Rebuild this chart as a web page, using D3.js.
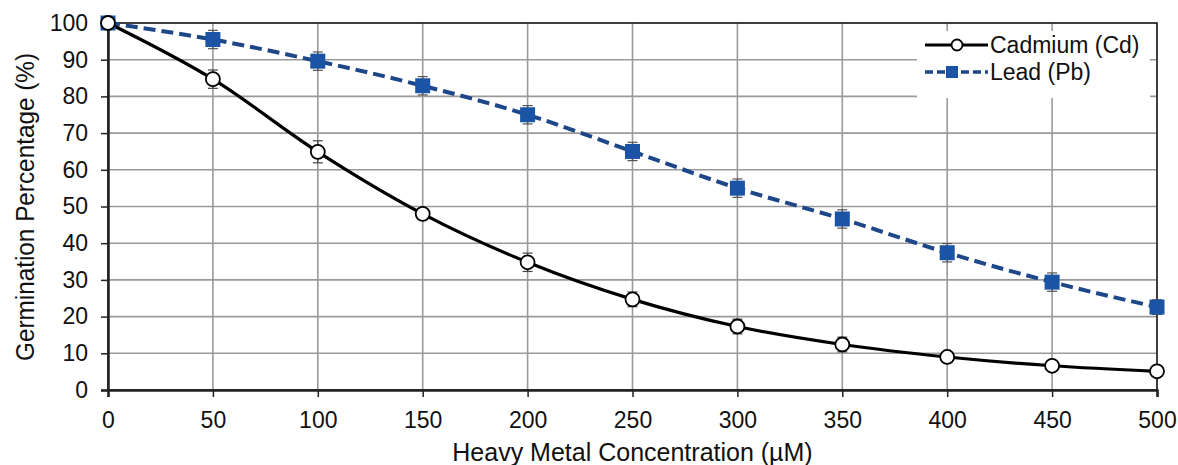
<!DOCTYPE html>
<html>
<head>
<meta charset="utf-8">
<script src="https://cdn.jsdelivr.net/npm/d3@7"></script>
<style>
  body { margin: 0; background: #fff; }
  svg { display: block; font-family: "Liberation Sans", Arial, sans-serif; }
</style>
</head>
<body>
<div id="chart"></div>
<script>
const concentrations = [0, 50, 100, 150, 200, 250, 300, 350, 400, 450, 500];
const cadmium = [100, 84.7, 64.9, 48, 34.8, 24.7, 17.3, 12.4, 9, 6.6, 5.1];
const cadmiumErr = [1, 2.5, 3, 1, 2.5, 2, 2, 2, 0.5, 0.5, 0.5];
const lead = [100, 95.5, 89.6, 82.9, 75, 65, 55, 46.6, 37.4, 29.4, 22.6];
const leadErr = [1, 2.5, 2.5, 2.5, 2.5, 2.5, 2.5, 2.5, 2.5, 2.5, 2];
const yTicks = [0, 10, 20, 30, 40, 50, 60, 70, 80, 90, 100];

const width = 1178, height = 465;
const margin = { top: 23, right: 21, bottom: 75, left: 108 };

const svg = d3.select("#chart")
  .append("svg")
  .attr("width", width)
  .attr("height", height);

const x = d3.scaleLinear().domain([0, 500]).range([margin.left, width - margin.right]);
const y = d3.scaleLinear().domain([0, 100]).range([height - margin.bottom, margin.top]);

// grid
svg.append("g")
  .selectAll("line")
  .data(yTicks)
  .join("line")
  .attr("x1", x(0)).attr("x2", x(500))
  .attr("y1", d => y(d)).attr("y2", d => y(d))
  .attr("stroke", "#9a9a9a").attr("stroke-width", 1.6);

svg.append("g")
  .selectAll("line")
  .data(concentrations)
  .join("line")
  .attr("x1", d => x(d)).attr("x2", d => x(d))
  .attr("y1", y(0)).attr("y2", y(100))
  .attr("stroke", "#9a9a9a").attr("stroke-width", 1.6);

// frame
svg.append("rect")
  .attr("x", x(0)).attr("y", y(100))
  .attr("width", x(500) - x(0)).attr("height", y(0) - y(100))
  .attr("fill", "none").attr("stroke", "#222").attr("stroke-width", 1.6);

// axes
const xAxis = svg.append("g")
  .attr("transform", `translate(0,${y(0)})`)
  .call(d3.axisBottom(x).tickValues(concentrations).tickSize(7).tickPadding(15));
const yAxis = svg.append("g")
  .attr("transform", `translate(${x(0)},0)`)
  .call(d3.axisLeft(y).tickValues(yTicks).tickSize(7).tickPadding(13));

[xAxis, yAxis].forEach(a => {
  a.select(".domain").attr("stroke", "#222").attr("stroke-width", 2.5);
  a.selectAll(".tick line").attr("stroke", "#222").attr("stroke-width", 1.5);
  a.selectAll(".tick text").attr("fill", "#111").style("font-size", "23px");
});

svg.append("text")
  .attr("x", (x(0) + x(500)) / 2)
  .attr("y", 461)
  .attr("text-anchor", "middle")
  .attr("fill", "#111")
  .style("font-size", "25px")
  .text("Heavy Metal Concentration (µM)");

svg.append("text")
  .attr("transform", "translate(34,207) rotate(-90)")
  .attr("text-anchor", "middle")
  .attr("fill", "#111")
  .style("font-size", "25px")
  .attr("textLength", 308)
  .attr("lengthAdjust", "spacingAndGlyphs")
  .text("Germination Percentage (%)");

const lineBlue = "#1d4788";
const markBlue = "#1b54a4";

const cdData = concentrations.map((c, i) => ({ x: c, y: cadmium[i], e: cadmiumErr[i] }));
const pbData = concentrations.map((c, i) => ({ x: c, y: lead[i], e: leadErr[i] }));

const errorBars = (data, color) => {
  const g = svg.append("g").attr("stroke", color).attr("stroke-width", 1.2);
  g.append("g").selectAll("line").data(data).join("line")
    .attr("x1", d => x(d.x)).attr("x2", d => x(d.x))
    .attr("y1", d => y(d.y - d.e)).attr("y2", d => y(d.y + d.e));
  [-1, 1].forEach(s => {
    g.append("g").selectAll("line").data(data).join("line")
      .attr("x1", d => x(d.x) - 5).attr("x2", d => x(d.x) + 5)
      .attr("y1", d => y(d.y + s * d.e))
      .attr("y2", d => y(d.y + s * d.e));
  });
};
errorBars(pbData, "#555");
errorBars(cdData, "#444");

const line = d3.line().x(d => x(d.x)).y(d => y(d.y)).curve(d3.curveMonotoneX);

svg.append("path")
  .datum(pbData)
  .attr("d", line)
  .attr("fill", "none")
  .attr("stroke", lineBlue)
  .attr("stroke-width", 4)
  .attr("stroke-dasharray", "12,6");

svg.append("path")
  .datum(cdData)
  .attr("d", line)
  .attr("fill", "none")
  .attr("stroke", "#000")
  .attr("stroke-width", 3.2);

svg.append("g")
  .selectAll("rect")
  .data(pbData)
  .join("rect")
  .attr("x", d => x(d.x) - 7.5).attr("y", d => y(d.y) - 7.5)
  .attr("width", 15).attr("height", 15)
  .attr("fill", markBlue);

svg.append("g")
  .selectAll("circle")
  .data(cdData)
  .join("circle")
  .attr("cx", d => x(d.x)).attr("cy", d => y(d.y))
  .attr("r", 7)
  .attr("fill", "#fff")
  .attr("stroke", "#000")
  .attr("stroke-width", 1.8);

// legend
const legend = svg.append("g").attr("transform", "translate(917,31)");
legend.append("rect")
  .attr("width", 233).attr("height", 67)
  .attr("fill", "#fff");

const cdRow = legend.append("g").attr("transform", "translate(0,14)");
cdRow.append("line").attr("x1", 8).attr("x2", 71).attr("stroke", "#000").attr("stroke-width", 3);
cdRow.append("circle").attr("cx", 40).attr("r", 5.5).attr("fill", "#fff").attr("stroke", "#000").attr("stroke-width", 1.8);
cdRow.append("text").attr("x", 73).attr("dy", "0.35em").attr("fill", "#111").style("font-size", "23px").text("Cadmium (Cd)");

const pbRow = legend.append("g").attr("transform", "translate(0,41)");
pbRow.append("line").attr("x1", 8).attr("x2", 71).attr("stroke", lineBlue).attr("stroke-width", 3.5).attr("stroke-dasharray", "8,4");
pbRow.append("rect").attr("x", 29).attr("y", -6).attr("width", 12).attr("height", 12).attr("fill", markBlue);
pbRow.append("text").attr("x", 73).attr("dy", "0.35em").attr("fill", "#111").style("font-size", "23px").text("Lead (Pb)");
</script>
</body>
</html>
